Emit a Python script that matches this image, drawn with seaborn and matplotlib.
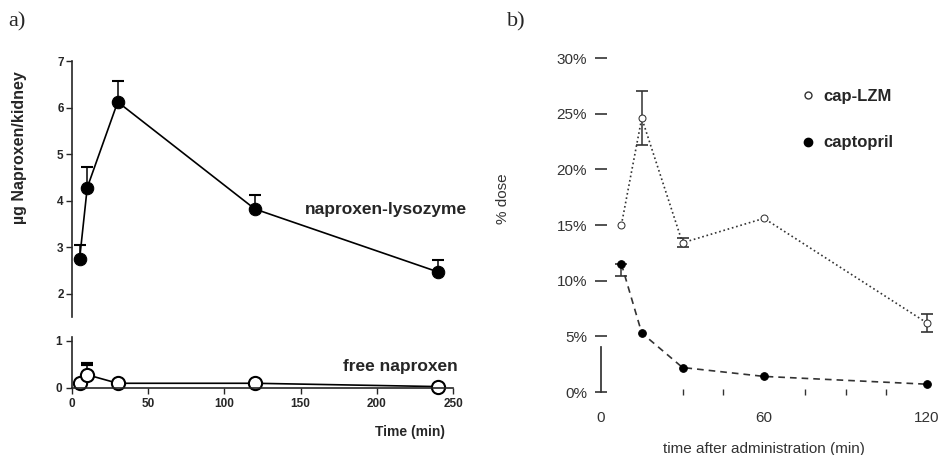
import numpy as np
import pandas as pd
import seaborn as sns
import matplotlib.pyplot as plt
from matplotlib.lines import Line2D

# panel a - naproxen in kidney
TIME_A = [5, 10, 30, 120, 240]
LYSOZYME = [2.75, 4.28, 6.12, 3.82, 2.47]
LYSOZYME_ERR = [0.3, 0.45, 0.45, 0.3, 0.25]
FREE_NAP = [0.1, 0.28, 0.1, 0.1, 0.03]
FREE_NAP_ERR = [0.0, 0.22, 0.0, 0.0, 0.0]
X_TICKS_A = [0, 50, 100, 150, 200, 250]
Y_TICKS_TOP = [2, 3, 4, 5, 6, 7]
Y_TICKS_LOW = [0, 1]
Y_TICKLABELS_LOW = ["0", "1"]

# panel b - % dose
TIME_B = [7.5, 15, 30, 60, 120]
CAP_LZM = [15.0, 24.6, 13.4, 15.6, 6.2]
CAP_LZM_ERR = [0.0, 2.4, 0.4, 0.0, 0.8]
CAPTOPRIL = [11.5, 5.3, 2.2, 1.4, 0.7]
CAPTOPRIL_ERR_LOW = [1.1, 0.0, 0.0, 0.0, 0.0]
Y_TICKS_B = [0, 5, 10, 15, 20, 25, 30]
Y_TICKLABELS_B = ["0%", "5%", "10%", "15%", "20%", "25%", "30%"]
X_TICKS_B = [0, 60, 120]
X_MINOR_B = [30, 45, 75, 90, 105]

sns.set_theme(style="ticks")
plt.rcParams['font.family'] = ['Liberation Sans', 'DejaVu Sans']

fig = plt.figure(figsize=(9.44, 4.55), dpi=100)
W, H = 944.0, 455.0

def box(x0, y0, x1, y1):
    # pixel box (left, top, right, bottom) -> figure coords
    return [x0 / W, 1 - y1 / H, (x1 - x0) / W, (y1 - y0) / H]

def errbars(ax, x, y, lo, hi, color, capthick=1.2):
    # only draw bars that have a non zero error
    x, y, lo, hi = map(np.asarray, (x, y, lo, hi))
    keep = (lo > 0) | (hi > 0)
    ax.errorbar(x[keep], y[keep], yerr=[lo[keep], hi[keep]], fmt="none",
                ecolor=color, elinewidth=1.1, capsize=4, capthick=capthick,
                clip_on=False, zorder=1)

#####################################################################
# panel a, upper part
#####################################################################
ax_top = fig.add_axes(box(72, 61, 453, 317))
sns.lineplot(x=TIME_A, y=LYSOZYME, ax=ax_top, color="black", marker="o",
             markersize=9, linewidth=1.2, markeredgecolor="black", clip_on=False)
errbars(ax_top, TIME_A, LYSOZYME, np.zeros(len(LYSOZYME)), LYSOZYME_ERR, "black", 1.5)
ax_top.set_xlim(0, 250)
ax_top.set_ylim(1.5, 7)
ax_top.set_yticks(Y_TICKS_TOP)
ax_top.set_xticks([])
for s in ["top", "right", "bottom"]:
    ax_top.spines[s].set_visible(False)
ax_top.spines["left"].set_linewidth(1.2)
ax_top.tick_params(axis="y", direction="out", length=4, width=1, labelsize=8.5, pad=2)
for lab in ax_top.get_yticklabels():
    lab.set_fontweight("bold")
ax_top.text(153, 3.8, "naproxen-lysozyme", fontsize=12.5, fontweight="bold", va="center")

#####################################################################
# panel a, lower part
#####################################################################
ax_low = fig.add_axes(box(72, 337, 453, 388))
sns.lineplot(x=TIME_A, y=FREE_NAP, ax=ax_low, color="black", marker="o",
             markersize=9.5, linewidth=1.2, markerfacecolor="white",
             markeredgecolor="black", markeredgewidth=1.5, clip_on=False)
errbars(ax_low, TIME_A, FREE_NAP, np.zeros(len(FREE_NAP)), FREE_NAP_ERR, "black", 3)
ax_low.set_xlim(0, 250)
ax_low.set_ylim(0, 1.08)
ax_low.set_yticks(Y_TICKS_LOW)
ax_low.set_yticklabels(Y_TICKLABELS_LOW)
ax_low.set_xticks(X_TICKS_A)
for s in ["top", "right"]:
    ax_low.spines[s].set_visible(False)
ax_low.spines["left"].set_linewidth(1.2)
ax_low.spines["bottom"].set_linewidth(1.2)
ax_low.tick_params(direction="out", length=4, width=1, labelsize=8.5, pad=3)
for lab in ax_low.get_xticklabels() + ax_low.get_yticklabels():
    lab.set_fontweight("bold")
ax_low.text(178, 0.45, "free naproxen", fontsize=12.5, fontweight="bold", va="center")
ax_low.set_xlabel("Time (min)", fontsize=10, fontweight="bold", ha="right")
ax_low.xaxis.set_label_coords(0.98, -0.72)

fig.text(20 / W, 1 - 148 / H, "µg Naproxen/kidney", rotation=90, ha="center",
         va="center", fontsize=11.5, fontweight="bold")
fig.text(8 / W, 1 - 22 / H, "a)", family="Liberation Serif", fontsize=16,
         ha="left", va="center")

#####################################################################
# panel b
#####################################################################
grey = "#333333"
ax_b = fig.add_axes(box(601, 58, 927, 392))
sns.lineplot(x=TIME_B, y=CAP_LZM, ax=ax_b, color=grey, linestyle=":",
             linewidth=1.2, marker="o", markersize=5, markerfacecolor="white",
             markeredgecolor=grey, clip_on=False)
errbars(ax_b, TIME_B, CAP_LZM, CAP_LZM_ERR, CAP_LZM_ERR, grey)
sns.lineplot(x=TIME_B, y=CAPTOPRIL, ax=ax_b, color=grey, linestyle=(0, (4, 3)),
             linewidth=1.2, marker="o", markersize=5.5, markerfacecolor="black",
             markeredgecolor="black", clip_on=False)
errbars(ax_b, TIME_B, CAPTOPRIL, CAPTOPRIL_ERR_LOW, np.zeros(len(CAPTOPRIL)), grey)
ax_b.set_xlim(0, 120)
ax_b.set_ylim(0, 30)
ax_b.set_yticks(Y_TICKS_B)
ax_b.set_yticklabels(Y_TICKLABELS_B)
ax_b.set_xticks(X_TICKS_B)
ax_b.set_xticks(X_MINOR_B, minor=True)
for s in ["top", "right", "bottom"]:
    ax_b.spines[s].set_visible(False)
ax_b.spines["left"].set_bounds(0, 4)
ax_b.spines["left"].set_color(grey)
ax_b.tick_params(axis="y", direction="inout", length=8, width=1.2, colors=grey,
                 labelsize=11, pad=6)
ax_b.tick_params(axis="x", which="major", length=0, labelsize=11, colors=grey, pad=14)
ax_b.tick_params(axis="x", which="minor", direction="inout", length=4, width=1,
                 colors=grey)
ax_b.set_xlabel("time after administration (min)", fontsize=11, color=grey)
ax_b.xaxis.set_label_coords(0.5, -0.15)
ax_b.set_ylabel("% dose", fontsize=11, color=grey)
ax_b.yaxis.set_label_coords(-0.28, 0.58)

handles = [
    Line2D([], [], linestyle="none", marker="o", markersize=5,
           markerfacecolor="white", markeredgecolor=grey),
    Line2D([], [], linestyle="none", marker="o", markersize=6,
           markerfacecolor="black", markeredgecolor="black"),
]
leg = ax_b.legend(handles, ["cap-LZM", "captopril"], frameon=False,
                  loc="upper left", bbox_to_anchor=((795 - 601) / 326, (392 - 82) / 334),
                  prop={"size": 12, "weight": "bold"}, labelspacing=1.9,
                  handlelength=0.8, handletextpad=0.5, borderaxespad=0)

fig.text(507 / W, 1 - 22 / H, "b)", family="Liberation Serif", fontsize=16,
         ha="left", va="center")

plt.savefig("out.png", dpi=100)
